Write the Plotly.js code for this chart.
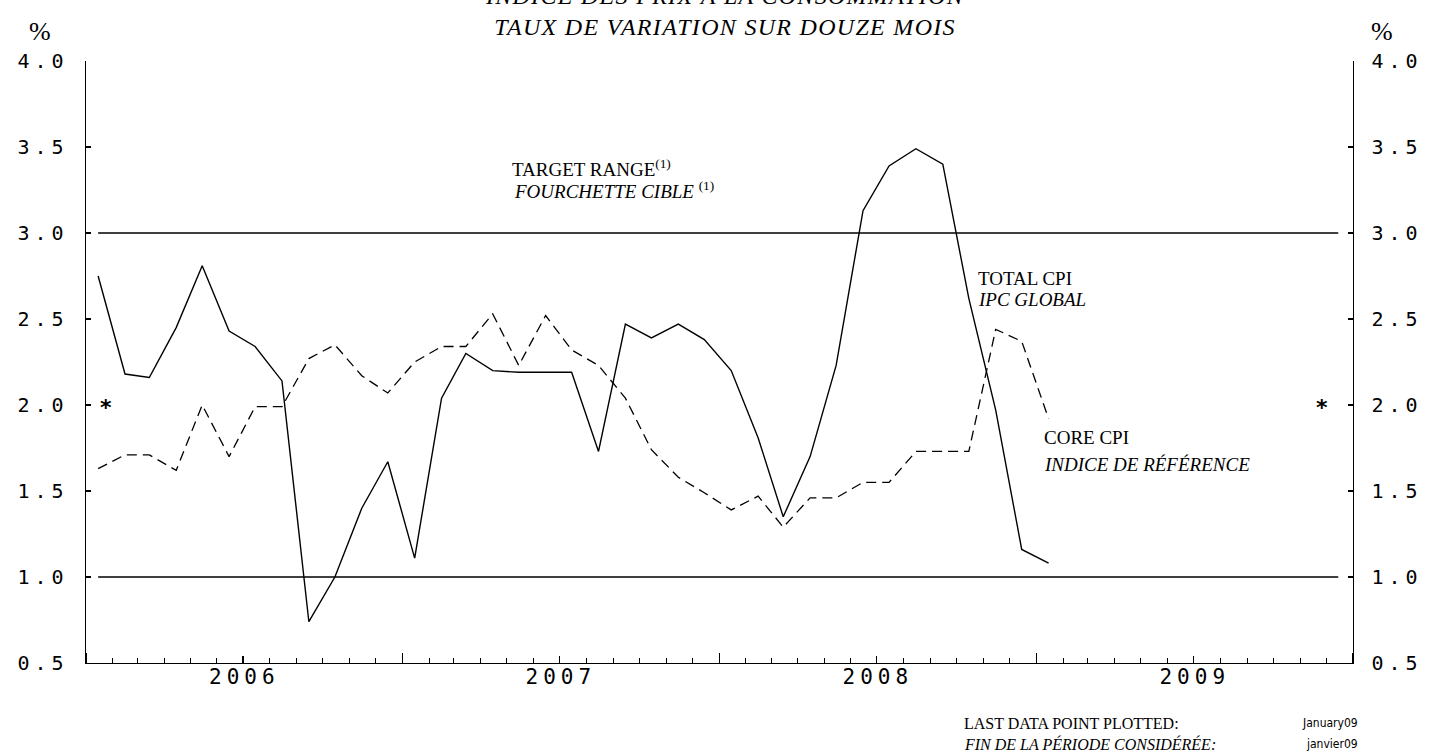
<!DOCTYPE html>
<html>
<head>
<meta charset="utf-8">
<script src="https://cdn.plot.ly/plotly-3.0.1.min.js"></script>
<style>
  html, body { margin: 0; padding: 0; background: #fff; }
  #chart { width: 1430px; height: 756px; }
  .ytick text, .y2tick text { letter-spacing: 5px; }
  .xtick text { letter-spacing: 5px; }
  .gtitle { letter-spacing: 1.3px; }
</style>
</head>
<body>
<div id="chart"></div>
<script>
// ---- data (12-month rate of change, %) ----
const startYear = 2006;
const startMonth = 0; // January
const totalCPI = [2.75, 2.18, 2.16, 2.45, 2.81, 2.43, 2.34, 2.14, 0.74, 1.00, 1.40, 1.67,
                  1.11, 2.04, 2.30, 2.20, 2.19, 2.19, 2.19, 1.73, 2.47, 2.39, 2.47, 2.38,
                  2.20, 1.81, 1.35, 1.70, 2.23, 3.13, 3.39, 3.49, 3.40, 2.62, 1.97, 1.16,
                  1.08];
const coreCPI  = [1.63, 1.71, 1.71, 1.62, 2.00, 1.70, 1.99, 1.99, 2.27, 2.35, 2.17, 2.07,
                  2.25, 2.34, 2.34, 2.53, 2.23, 2.52, 2.32, 2.23, 2.04, 1.74, 1.58, 1.49,
                  1.39, 1.47, 1.29, 1.46, 1.46, 1.55, 1.55, 1.73, 1.73, 1.73, 2.44, 2.37,
                  1.92];
const targetLow = 1.0;
const targetHigh = 3.0;
const targetSpan = ['2006-01-15', '2009-12-15'];
const xRange = ['2006-01-01', '2010-01-01'];
const yRange = [0.5, 4.0];
const yTickStep = 0.5;
const lastPointEN = 'January09';
const lastPointFR = 'janvier09';

// month dates (mid-month)
const months = totalCPI.map((_, i) => {
  const y = startYear + Math.floor((startMonth + i) / 12);
  const m = (startMonth + i) % 12 + 1;
  return y + '-' + String(m).padStart(2, '0') + '-15';
});

const black = '#000';
const traces = [
  { x: targetSpan, y: [targetHigh, targetHigh], mode: 'lines', line: { color: black, width: 1.5 }, hoverinfo: 'skip', showlegend: false },
  { x: targetSpan, y: [targetLow, targetLow], mode: 'lines', line: { color: black, width: 1.5 }, hoverinfo: 'skip', showlegend: false },
  { x: months, y: coreCPI, name: 'CORE CPI', mode: 'lines', line: { color: black, width: 1.3, dash: '10px,6px' }, showlegend: false },
  { x: months, y: totalCPI, name: 'TOTAL CPI', mode: 'lines', line: { color: black, width: 1.4 }, showlegend: false },
  // carrier trace for the secondary (right / mid-year tick) axes, draws nothing
  { x: months, y: totalCPI, xaxis: 'x2', yaxis: 'y2', mode: 'none', hoverinfo: 'skip', showlegend: false }
];

const serif = 'Liberation Serif, Times New Roman, serif';
const monoTick = { family: 'DejaVu Sans Mono, monospace', size: 20, color: black };

function ann(text, x, y, opts) {
  return Object.assign({ text: text, x: x, y: y, xref: 'paper', yref: 'paper', showarrow: false,
    xanchor: 'left', yanchor: 'middle', font: { family: serif, size: 19, color: black } }, opts || {});
}

const narrow = 'Liberation Sans Narrow, DejaVu Sans Condensed, Liberation Sans, sans-serif';
const annotations = [
  ann('%', -0.0363, 1.0498, { xanchor: 'center', font: { family: serif, size: 26, color: black } }),
  ann('%', 1.0229, 1.0498, { xanchor: 'center', font: { family: serif, size: 26, color: black } }),
  ann('TARGET RANGE<sup>(1)</sup>', 0.3346, 0.822),
  ann('<i>FOURCHETTE CIBLE</i> <sup>(1)</sup>', 0.3362, 0.786),
  ann('TOTAL CPI', 0.7025, 0.638),
  ann('<i>IPC GLOBAL</i>', 0.7025, 0.603),
  ann('CORE CPI', 0.7545, 0.374),
  ann('<i>INDICE DE RÉFÉRENCE</i>', 0.7545, 0.329),
  ann('<b>*</b>', 0.0158, 0.425, { xanchor: 'center', font: { family: 'DejaVu Sans', size: 22, color: black } }),
  ann('<b>*</b>', 0.9755, 0.425, { xanchor: 'center', font: { family: 'DejaVu Sans', size: 22, color: black } }),
  ann('LAST DATA POINT PLOTTED:', 0.6914, -0.0997, { font: { family: serif, size: 16, color: black } }),
  ann('<i>FIN DE LA PÉRIODE CONSIDÉRÉE:</i>', 0.6914, -0.1346, { font: { family: serif, size: 16, color: black } }),
  ann(lastPointEN, 1.0055, -0.0997, { xanchor: 'right', font: { family: narrow, size: 12, color: black } }),
  ann(lastPointFR, 1.0055, -0.1346, { xanchor: 'right', font: { family: narrow, size: 12, color: black } })
];

const yCommon = {
  range: yRange, dtick: yTickStep, tick0: 0, tickformat: '.1f',
  ticks: 'inside', ticklen: 5, tickwidth: 1.1, tickcolor: black,
  showline: true, linecolor: black, linewidth: 1.4,
  showgrid: false, zeroline: false, fixedrange: true,
  tickfont: monoTick
};

const layout = {
  width: 1430, height: 756,
  margin: { l: 86, r: 77, t: 61, b: 93 },
  paper_bgcolor: '#fff', plot_bgcolor: '#fff',
  font: { family: serif, color: black },
  title: {
    text: '<i>INDICE DES PRIX À LA CONSOMMATION</i><br><i>TAUX DE VARIATION SUR DOUZE MOIS</i>',
    font: { family: serif, size: 24, color: black },
    xref: 'container', x: 0.507, xanchor: 'center',
    yref: 'container', y: 0.9946, yanchor: 'bottom'
  },
  showlegend: false,
  xaxis: {
    type: 'date', range: xRange, tick0: '2006-01-01', dtick: 'M12',
    ticklabelmode: 'period', tickformat: '%Y',
    ticks: 'inside', ticklen: 10, tickwidth: 1.1, tickcolor: black,
    minor: { dtick: 'M1', tick0: '2006-01-01', ticks: 'inside', ticklen: 5, tickwidth: 1, tickcolor: black, showgrid: false },
    showline: true, linecolor: black, linewidth: 1.4,
    showgrid: false, zeroline: false, fixedrange: true,
    tickfont: { family: 'DejaVu Sans Mono, monospace', size: 21, color: black },
    ticklabelstandoff: -6
  },
  xaxis2: {
    type: 'date', range: xRange, overlaying: 'x', anchor: 'y2', side: 'bottom',
    tick0: '2006-07-01', dtick: 'M12', ticks: 'inside', ticklen: 7, tickwidth: 1.1, tickcolor: black,
    showticklabels: false, showline: false, showgrid: false, zeroline: false, fixedrange: true
  },
  yaxis: Object.assign({}, yCommon, { side: 'left', ticklabelstandoff: 12 }),
  yaxis2: Object.assign({}, yCommon, { side: 'right', overlaying: 'y', anchor: 'x2', ticklabelstandoff: 13 }),
  annotations: annotations
};

Plotly.newPlot('chart', traces, layout, { displayModeBar: false, staticPlot: true });
</script>
</body>
</html>
